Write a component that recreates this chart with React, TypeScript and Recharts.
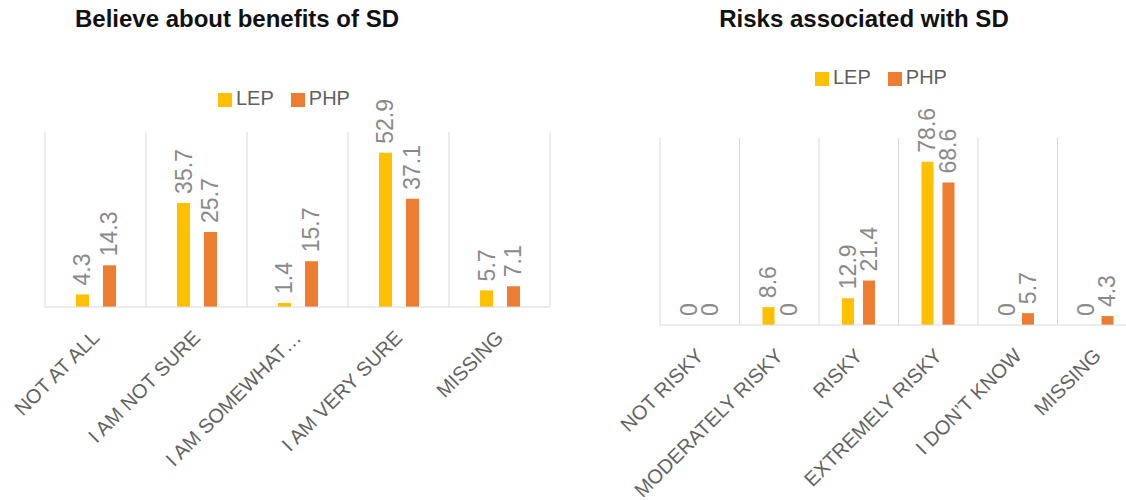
import { BarChart, Bar, XAxis, YAxis, CartesianGrid, Legend, LabelList } from "recharts";

const LEP_COLOR = "#FFC000";
const PHP_COLOR = "#ED7D31";

// left chart: beliefs about benefits
const benefitCategories = ["NOT AT ALL", "I AM NOT SURE", "I AM SOMEWHAT…", "I AM VERY SURE", "MISSING"];
const benefitLep = [4.3, 35.7, 1.4, 52.9, 5.7];
const benefitPhp = [14.3, 25.7, 15.7, 37.1, 7.1];

// right chart: perceived risks
const riskCategories = ["NOT RISKY", "MODERATELY RISKY", "RISKY", "EXTREMELY RISKY", "I DON’T KNOW", "MISSING"];
const riskLep = [0, 8.6, 12.9, 78.6, 0, 0];
const riskPhp = [0, 0, 21.4, 68.6, 5.7, 4.3];

const benefitData = benefitCategories.map((name, i) => ({ name, LEP: benefitLep[i], PHP: benefitPhp[i] }));
const riskData = riskCategories.map((name, i) => ({ name, LEP: riskLep[i], PHP: riskPhp[i] }));

const FONT = "'Liberation Sans', Arial, sans-serif";

const AngledTick = (props: any) => {
  const { x, y, payload } = props;
  const ax = x + 5;
  const ay = y + 32;
  return (
    <text x={ax} y={ay} transform={`rotate(-45, ${ax}, ${ay})`} textAnchor="end" fill="#636363" fontSize={20} fontFamily={FONT}>
      {payload.value}
    </text>
  );
};

const VerticalLabel = (props: any) => {
  const { x, y, width, value } = props;
  const cx = x + width / 2;
  const cy = y - 9;
  return (
    <text x={cx} y={cy} transform={`rotate(-90, ${cx}, ${cy})`} textAnchor="start" dominantBaseline="central" fill="#8a8a8a" fontSize={23} fontFamily={FONT}>
      {value}
    </text>
  );
};

const boundaryLines = (n: number) => ({ offset }: any) =>
  Array.from({ length: n + 1 }, (_, i) => offset.left + (i * offset.width) / n);

const legendText = (value: string) => (
  <span style={{ color: "#5f5f5f", paddingRight: 7 }}>{value}</span>
);

function Title({ text, center }: { text: string; center: number }) {
  return (
    <div
      style={{
        position: "absolute", left: center - 200, top: 5, width: 400, textAlign: "center",
        fontFamily: FONT, fontWeight: 700, fontSize: 24, lineHeight: "28px", color: "#111",
      }}
    >
      {text}
    </div>
  );
}

export default function App() {
  return (
    <div style={{ position: "absolute", left: 0, top: 0, width: 1126, height: 500, overflow: "hidden", background: "#fff" }}>
      <Title text="Believe about benefits of SD" center={237} />
      <Title text="Risks associated with SD" center={864} />

      <div style={{ position: "absolute", left: 0, top: 0 }}>
        <BarChart width={580} height={500} data={benefitData} margin={{ top: 132, right: 30, bottom: 93, left: 45 }} barSize={13} barGap={14}>
          <CartesianGrid horizontal={false} stroke="#d9d9d9" verticalCoordinatesGenerator={boundaryLines(benefitData.length)} />
          <XAxis dataKey="name" interval={0} height={100} tickLine={false} tickSize={0} tickMargin={0} axisLine={{ stroke: "#d9d9d9" }} tick={<AngledTick />} />
          <YAxis hide domain={[0, 60]} />
          <Legend verticalAlign="middle" align="center" iconType="square" iconSize={14} formatter={legendText}
            wrapperStyle={{ top: 87, left: 218, width: "auto", fontSize: 20, fontFamily: FONT }} />
          <Bar dataKey="LEP" fill={LEP_COLOR} minPointSize={0.01} isAnimationActive={false}>
            <LabelList dataKey="LEP" content={<VerticalLabel />} />
          </Bar>
          <Bar dataKey="PHP" fill={PHP_COLOR} minPointSize={0.01} isAnimationActive={false}>
            <LabelList dataKey="PHP" content={<VerticalLabel />} />
          </Bar>
        </BarChart>
      </div>

      <div style={{ position: "absolute", left: 600, top: 0 }}>
        <BarChart width={560} height={500} data={riskData} margin={{ top: 138, right: 23, bottom: 75, left: 60 }} barSize={12} barGap={9}>
          <CartesianGrid horizontal={false} stroke="#d9d9d9" verticalCoordinatesGenerator={boundaryLines(riskData.length)} />
          <XAxis dataKey="name" interval={0} height={100} tickLine={false} tickSize={0} tickMargin={0} axisLine={{ stroke: "#d9d9d9" }} tick={<AngledTick />} />
          <YAxis hide domain={[0, 90]} />
          <Legend verticalAlign="middle" align="center" iconType="square" iconSize={14} formatter={legendText}
            wrapperStyle={{ top: 66, left: 215, width: "auto", fontSize: 20, fontFamily: FONT }} />
          <Bar dataKey="LEP" fill={LEP_COLOR} minPointSize={0.01} isAnimationActive={false}>
            <LabelList dataKey="LEP" content={<VerticalLabel />} />
          </Bar>
          <Bar dataKey="PHP" fill={PHP_COLOR} minPointSize={0.01} isAnimationActive={false}>
            <LabelList dataKey="PHP" content={<VerticalLabel />} />
          </Bar>
        </BarChart>
      </div>
    </div>
  );
}
